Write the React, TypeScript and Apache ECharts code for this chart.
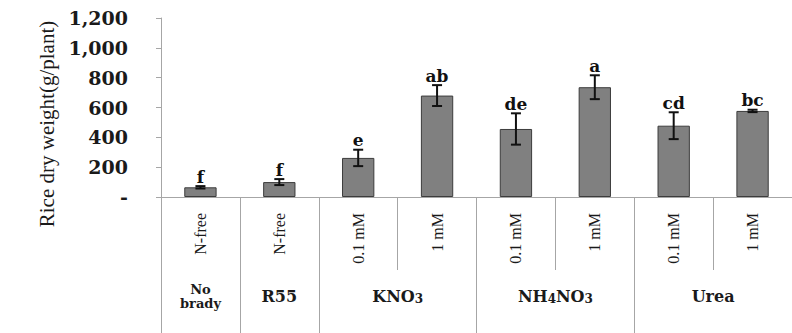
import React, { useEffect, useRef } from "react";
import * as echarts from "echarts";

const categories = ["N-free", "N-free", "0.1 mM", "1 mM", "0.1 mM", "1 mM", "0.1 mM", "1 mM"];
const groups = ["{s|No}\n{s|brady}", "R55", "KNO{sub|3}", "NH{sub|4}NO{sub|3}", "Urea"];
const groupSpan = [1, 1, 2, 2, 2];
const dryWeight = [65, 100, 262, 680, 456, 736, 478, 577];
const stdError = [8, 20, 55, 70, 105, 80, 90, 8];
const letters = ["f", "f", "e", "ab", "de", "a", "cd", "bc"];
const yTitle = "Rice dry weight(g/plant)";

export default function App() {
  const ref = useRef<HTMLDivElement>(null);
  useEffect(() => {
    if (!ref.current) return;
    const chart = echarts.init(ref.current, null, { renderer: "svg" });
    const bounds: number[] = [0];
    groupSpan.forEach((s) => bounds.push(bounds[bounds.length - 1] + s));
    const centers = groupSpan.map((s, i) => bounds[i] + s / 2);
    const total = bounds[bounds.length - 1];
    const axisGray = "#a6a6a6";
    const textColor = "#1a1a1a";

    chart.setOption({
      animation: false,
      backgroundColor: "#ffffff",
      grid: { left: 161, top: 18, width: 639, bottom: 136, containLabel: false },
      xAxis: [
        {
          type: "category",
          data: categories,
          position: "bottom",
          axisLine: { show: true, lineStyle: { color: axisGray, width: 1 } },
          axisTick: { show: true, interval: 0, length: 73, lineStyle: { color: axisGray } },
          axisLabel: {
            interval: 0,
            rotate: 90,
            margin: 16,
            fontFamily: "Liberation Serif",
            fontSize: 16,
            color: textColor,
          },
          splitLine: { show: false },
        },
        {
          type: "value",
          min: 0,
          max: total,
          position: "bottom",
          axisLine: { show: false },
          splitLine: { show: false },
          axisTick: {
            show: true,
            customValues: bounds,
            length: 140,
            lineStyle: { color: axisGray },
          },
          axisLabel: {
            show: true,
            customValues: centers,
            formatter: (v: number) => {
              const i = centers.findIndex((c) => Math.abs(c - v) < 1e-6);
              return i >= 0 ? groups[i] : "";
            },
            margin: 99,
            verticalAlign: "middle",
            align: "center",
            fontFamily: "DejaVu Serif",
            fontWeight: "bold",
            fontSize: 16,
            lineHeight: 17,
            color: textColor,
            rich: {
              sub: {
                fontFamily: "DejaVu Serif",
                fontWeight: "bold",
                fontSize: 12,
                lineHeight: 5,
                verticalAlign: "bottom",
                color: textColor,
              },
              s: {
                fontFamily: "DejaVu Serif",
                fontWeight: "bold",
                fontSize: 13,
                lineHeight: 14,
                color: textColor,
              },
            },
          },
        },
      ],
      yAxis: {
        type: "value",
        min: 0,
        max: 1200,
        interval: 200,
        axisLine: { show: true, lineStyle: { color: axisGray } },
        axisTick: { show: true, length: 5, lineStyle: { color: axisGray } },
        splitLine: { show: false },
        axisLabel: {
          margin: 33,
          fontFamily: "DejaVu Serif",
          fontWeight: "bold",
          fontSize: 19,
          color: textColor,
          formatter: (v: number) => (v === 0 ? "-" : v.toLocaleString("en-US")),
        },
      },
      graphic: [
        {
          type: "text",
          x: 47,
          y: 124,
          rotation: Math.PI / 2,
          style: {
            text: yTitle,
            fontFamily: "Liberation Serif",
            fontSize: 21,
            fill: textColor,
            align: "center",
            verticalAlign: "middle",
          },
        },
      ],
      series: [
        {
          type: "bar",
          data: dryWeight,
          barWidth: "41%",
          itemStyle: { color: "#808080", borderColor: "#3c3c3c", borderWidth: 1 },
        },
        {
          type: "custom",
          xAxisIndex: 0,
          yAxisIndex: 0,
          clip: false,
          z: 5,
          data: dryWeight.map((v, i) => [i, v, stdError[i]]),
          renderItem: (params: any, api: any) => {
            const i = api.value(0);
            const v = api.value(1);
            const e = api.value(2);
            const top = api.coord([i, v + e]);
            const bot = api.coord([i, v - e]);
            const cap = 5;
            const ls = { stroke: "#111", lineWidth: 2 };
            return {
              type: "group",
              children: [
                { type: "line", shape: { x1: top[0], y1: top[1], x2: bot[0], y2: bot[1] }, style: ls },
                { type: "line", shape: { x1: top[0] - cap, y1: top[1], x2: top[0] + cap, y2: top[1] }, style: ls },
                { type: "line", shape: { x1: bot[0] - cap, y1: bot[1], x2: bot[0] + cap, y2: bot[1] }, style: ls },
                {
                  type: "text",
                  x: top[0],
                  y: top[1] - 1,
                  style: {
                    text: letters[params.dataIndex],
                    fontFamily: "DejaVu Serif",
                    fontWeight: "bold",
                    fontSize: 17,
                    fill: "#111",
                    align: "center",
                    verticalAlign: "bottom",
                  },
                },
              ],
            };
          },
        },
      ],
    });
    return () => chart.dispose();
  }, []);
  return (
    <div
      ref={ref}
      style={{ position: "fixed", left: 0, top: 0, width: 792, height: 333, background: "#fff" }}
    />
  );
}
